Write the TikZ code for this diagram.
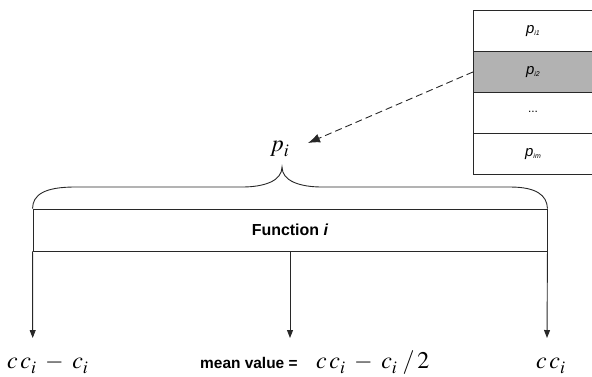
\documentclass[tikz,border=0pt]{standalone}
\usepackage{mathptmx}
\usepackage[no-math]{fontspec}
\setmainfont{Liberation Sans}
\usetikzlibrary{arrows.meta}
\definecolor{lc}{RGB}{40,40,40}
\definecolor{rowgray}{RGB}{178,178,178}
\newcommand{\lowsub}[1]{_{\raisebox{-2bp}{$\scriptstyle #1$}}}
\begin{document}
\begin{tikzpicture}[x=1bp,y=-1bp,
  line/.style={draw=lc, line width=0.9bp},
  cell/.style={line, minimum width=130bp, minimum height=41bp, inner sep=0pt,
    anchor=north west, font=\fontsize{15}{18}\selectfont\itshape},
  celltext/.style={anchor=center, inner sep=0pt, font=\fontsize{15}{18}\selectfont\itshape},
  mathlbl/.style={anchor=base west, inner sep=0pt, font=\fontsize{24}{28}\selectfont},
  downarrow/.style={line, -{Triangle[length=8bp,width=6bp]}}
]
\useasboundingbox (0,0) rectangle (592,376);

% table on the right (extends beyond the right edge)
\node[cell] (r1) at (473,10) {};
\node[cell, fill=rowgray] (r2) at (473,51) {};
\node[cell] (r3) at (473,92) {};
\node[cell] (r4) at (473,133) {};
\node[celltext] (t1) at (533,31) {p\raisebox{-2.5bp}{\fontsize{7}{8}\selectfont i1}};
\node[celltext] (t2) at (533,72) {p\raisebox{-2.5bp}{\fontsize{7}{8}\selectfont i2}};
\node[celltext] (t3) at (533,112) {\upshape\fontsize{12}{14}\selectfont ...};
\node[celltext] (t4) at (533,154) {p\raisebox{-2.5bp}{\fontsize{7}{8}\selectfont im}};

% p_i label and dashed arrow
\node[mathlbl] (pi) at (270,151) {$p\lowsub{i}$};
\coordinate (pt) at (308,143);
\draw[line, dash pattern=on 7bp off 4bp, -{Latex[length=12bp,width=9bp]}] (r2.west) -- (pt);

% function box
\node[line, minimum width=514bp, minimum height=42bp, inner sep=0pt,
  font=\fontsize{16}{19}\selectfont\bfseries] (fn) at (290,230) {Function \textit{i}};

% brace
\draw[line] (fn.north west) .. controls (32.7,195) and (44,187) .. (75,187)
  -- (242,187) .. controls (264,187) and (282,181) .. (282,167)
  .. controls (282,181) and (300,187) .. (322,187)
  -- (510,187) .. controls (536,187) and (547,195) .. (fn.north east);

% down arrows
\coordinate (d1) at (32.7,338);
\coordinate (d2) at (290,338);
\coordinate (d3) at (547,338);
\draw[downarrow] (fn.south west) -- (d1);
\draw[downarrow] (fn.south) -- (d2);
\draw[downarrow] (fn.south east) -- (d3);

% bottom labels
\node[mathlbl] (l1) at (7,368) {$c\,c\lowsub{i} \mathbin{\;-\;} c\lowsub{i}$};
\node[anchor=base west, inner sep=0pt, font=\fontsize{15.5}{18}\selectfont\bfseries] (mv) at (200,368) {mean value =};
\node[mathlbl] (l2) at (316,368) {$c\,c\lowsub{i} \mathbin{\;-\;} c\lowsub{i}\;/\,2$};
\node[mathlbl] (l3) at (536,368) {$c\,c\lowsub{i}$};
\end{tikzpicture}
\end{document}
